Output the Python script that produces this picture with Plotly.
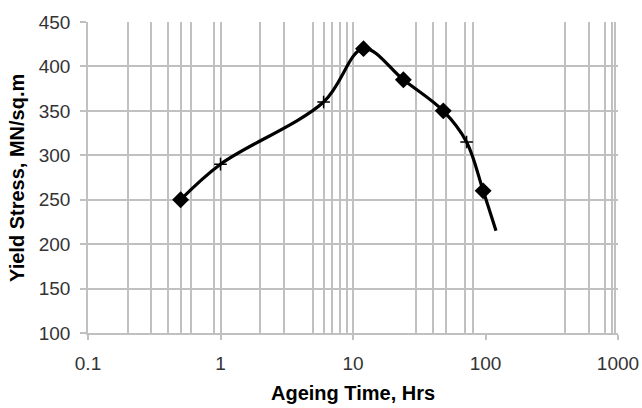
import plotly.graph_objects as go

# ---- data ----
AGE_HRS = [0.5, 1, 6, 12, 24, 48, 72, 96, 120]
YIELD_STRESS = [250, 290, 360, 420, 385, 350, 315, 260, 215]
POINT_KIND = ["data", "mid", "mid", "data", "data", "data", "mid", "data", "end"]

X_TICK_VALS = [0.1, 1, 10, 100, 1000]
X_TICK_TEXT = ["0.1", "1", "10", "100", "1000"]
X_GRID_VALS = [0.2, 0.3, 0.4, 0.5, 0.6, 0.9, 1, 2, 3, 5, 6, 7, 8, 9, 10,
               30, 40, 50, 70, 80, 400, 600, 800, 900, 950, 1000]
Y_TICK_VALS = [100, 150, 200, 250, 300, 350, 400, 450]

X_TITLE = "Ageing Time, Hrs"
Y_TITLE = "Yield Stress, MN/sq.m"

GRID = "#c0c0c0"
FONT = "Liberation Sans, Arial, sans-serif"

fig = go.Figure()

fig.add_trace(go.Scatter(
    x=AGE_HRS, y=YIELD_STRESS, mode="lines",
    line=dict(color="black", width=3.2, shape="spline", smoothing=1),
    hoverinfo="skip", showlegend=False))

dx = [a for a, k in zip(AGE_HRS, POINT_KIND) if k == "data"]
dy = [b for b, k in zip(YIELD_STRESS, POINT_KIND) if k == "data"]
fig.add_trace(go.Scatter(
    x=dx, y=dy, mode="markers",
    marker=dict(symbol="diamond", size=13, color="black"),
    showlegend=False))

mx = [a for a, k in zip(AGE_HRS, POINT_KIND) if k == "mid"]
my = [b for b, k in zip(YIELD_STRESS, POINT_KIND) if k == "mid"]
fig.add_trace(go.Scatter(
    x=mx, y=my, mode="markers",
    marker=dict(symbol="cross-thin", size=9, color="black",
                line=dict(color="black", width=1.5)),
    showlegend=False))

fig.update_layout(
    width=642, height=408,
    margin=dict(l=88, r=24, t=22, b=75),
    paper_bgcolor="white", plot_bgcolor="white",
    font=dict(family=FONT, size=19, color="#333333"),
    xaxis=dict(
        type="log", range=[-1, 3], automargin=False,
        tickmode="array", tickvals=X_TICK_VALS, ticktext=X_TICK_TEXT,
        showgrid=False, zeroline=False,
        showline=True, linecolor=GRID, linewidth=1.5,
        ticks="outside", ticklen=5, tickcolor=GRID, tickwidth=1.5,
        ticklabelstandoff=7,
        minor=dict(tickmode="array", tickvals=X_GRID_VALS, showgrid=True,
                   gridcolor=GRID, gridwidth=1.5, ticks=""),
    ),
    yaxis=dict(
        range=[100, 450], automargin=False,
        tickmode="array", tickvals=Y_TICK_VALS,
        showgrid=True, gridcolor=GRID, gridwidth=1.5, zeroline=False,
        showline=True, linecolor=GRID, linewidth=1.5,
        ticks="outside", ticklen=6, tickcolor=GRID, tickwidth=1.5,
        ticklabelstandoff=6,
    ),
    annotations=[
        dict(text="<b>" + X_TITLE + "</b>", xref="paper", yref="paper",
             x=0.5, y=-0.1916, xanchor="center", yanchor="middle",
             showarrow=False, font=dict(family=FONT, size=20, color="black")),
        dict(text="<b>" + Y_TITLE + "</b>", xref="paper", yref="paper",
             x=-0.135, y=0.5, xanchor="center", yanchor="middle", textangle=-90,
             showarrow=False, font=dict(family=FONT, size=20, color="black")),
    ],
)

fig.write_html("out.html")
